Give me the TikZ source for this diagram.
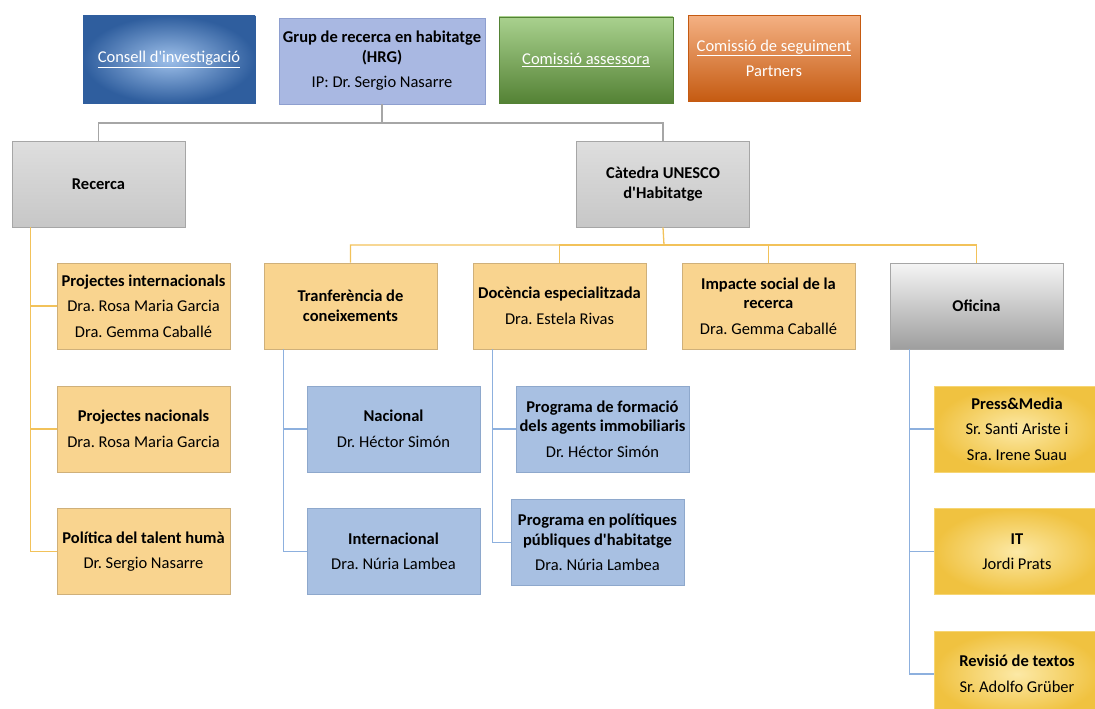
\documentclass[tikz,border=0pt]{standalone}
\usepackage{fontspec}
\setmainfont{Carlito}
\usetikzlibrary{positioning}
\definecolor{tanfill}{HTML}{F9D48F}
\definecolor{tanline}{HTML}{CFB07A}
\definecolor{skyfill}{HTML}{A8C0E2}
\definecolor{skyline}{HTML}{8EA8CC}
\definecolor{hrgfill}{HTML}{A9B8E2}
\definecolor{hrgline}{HTML}{8E9FCF}
\definecolor{greyline}{HTML}{A6A6A6}
\definecolor{consin}{HTML}{9EC0EA}
\definecolor{consout}{HTML}{2F5E9E}
\definecolor{asstop}{HTML}{A9D18E}
\definecolor{assbot}{HTML}{548235}
\definecolor{segtop}{HTML}{F4B183}
\definecolor{segbot}{HTML}{C55A11}
\definecolor{goldin}{HTML}{FCE9A6}
\definecolor{goldout}{HTML}{F0C240}
\definecolor{tanwire}{HTML}{F2C25A}
\definecolor{skywire}{HTML}{8DB0DE}
\tikzset{card/.style={minimum width=173pt,minimum height=86pt,inner sep=2pt,align=center,
    font=\fontsize{16.5}{19.5}\selectfont\frenchspacing,line width=0.8pt},
  tanbox/.style={card,fill=tanfill,draw=tanline},
  skybox/.style={card,fill=skyfill,draw=skyline},
  greybox/.style={card,top color=black!13,bottom color=black!22,draw=greyline},
  goldbox/.style={card,inner color=goldin,outer color=goldout,draw=goldin!50!goldout},
  tanlink/.style={draw=tanwire,line width=1.3pt},
  skylink/.style={draw=skywire,line width=1.3pt},
  greylink/.style={draw=greyline,line width=1.3pt}}
\newcommand\hd[1]{\textbf{#1}}
\newcommand\ap{\textquotesingle}
\begin{document}
\begin{tikzpicture}[x=1pt,y=-1pt]
    \useasboundingbox (0,0) rectangle (1095,709);
    \clip (0,0) rectangle (1095,709);
    \node[card,minimum width=172pt,minimum height=87pt,inner color=consin,outer color=consout,draw=consout,text=white]
        (consell) at (169,59.5) {\underline{Consell d\ap investigació}};
    \node[card,minimum width=206pt,fill=hrgfill,draw=hrgline] (grup) at (382,61)
        {\hd{Grup de recerca en habitatge}\\\hd{(HRG)}\\[6pt]IP: Dr. Sergio Nasarre};
    \node[card,minimum width=174pt,top color=asstop,bottom color=assbot,draw=assbot,text=white]
        (assessora) at (586,60) {\underline{Comissió assessora}};
    \node[card,minimum width=172pt,top color=segtop,bottom color=segbot,draw=segbot,text=white]
        (seguiment) at (774,58.5) {\underline{Comissió de seguiment}\\[6pt]Partners};
    \node[greybox] (recerca) at (98.5,184) {\hd{Recerca}};
    \node[greybox] (catedra) at (663,184) {\hd{Càtedra UNESCO}\\\hd{d\ap Habitatge}};
    \node[tanbox] (pint) at (143.5,306) {\hd{Projectes internacionals}\\[6pt]Dra. Rosa Maria Garcia\\[6pt]Dra. Gemma Caballé};
    \node[tanbox] (pnac) at (143.5,429) {\hd{Projectes nacionals}\\[6pt]Dra. Rosa Maria Garcia};
    \node[tanbox] (talent) at (143.5,551.5) {\hd{Política del talent humà}\\[6pt]Dr. Sergio Nasarre};
    \node[tanbox] (transf) at (350.5,306) {\hd{Tranferència de}\\\hd{coneixements}};
    \node[tanbox] (docencia) at (559.5,306) {\hd{Docència especialitzada}\\[6pt]Dra. Estela Rivas};
    \node[tanbox] (impacte) at (768.5,306) {\hd{Impacte social de la}\\\hd{recerca}\\[6pt]Dra. Gemma Caballé};
    \node[card,shading angle=30,top color=black!4,bottom color=black!38,draw=greyline] (oficina) at (976.5,306) {\hd{Oficina}};
    \node[skybox] (nacional) at (393.5,429) {\hd{Nacional}\\[6pt]Dr. Héctor Simón};
    \node[skybox] (internacional) at (393.5,551.5) {\hd{Internacional}\\[6pt]Dra. Núria Lambea};
    \node[skybox] (formacio) at (602.5,429) {\hd{Programa de formació}\\\hd{dels agents immobiliaris}\\[6pt]Dr. Héctor Simón};
    \node[skybox] (politiques) at (597.5,542.5) {\hd{Programa en polítiques}\\\hd{públiques d\ap habitatge}\\[6pt]Dra. Núria Lambea};
    \node[goldbox,minimum width=166pt] (press) at (1017,429) {\hd{Press\&Media}\\[6pt]Sr. Santi Ariste i\\[6pt]Sra. Irene Suau};
    \node[goldbox,minimum width=166pt] (it) at (1017,551.5) {\hd{IT}\\[6pt]Jordi Prats};
    \node[goldbox,minimum width=166pt] (revisio) at (1017,674) {\hd{Revisió de textos}\\[6pt]Sr. Adolfo Grüber};
    \coordinate (topbus) at (382,123);
    \coordinate (midbus) at (664,245);
    \draw[greylink] (grup.south) -- (topbus) -| (recerca.north);
    \draw[greylink] (topbus) -| (catedra.north);
    \draw[tanlink] (catedra.south) -- (midbus) -| (transf.north);
    \foreach \n in {docencia,impacte,oficina}
        \draw[tanlink] (midbus) -| (\n.north);
    \foreach \n in {pint,pnac,talent}
        \draw[tanlink] ([xshift=19pt]recerca.south west) |- (\n.west);
    \foreach \n in {nacional,internacional}
        \draw[skylink] ([xshift=20pt]transf.south west) |- (\n.west);
    \foreach \n in {formacio,politiques}
        \draw[skylink] ([xshift=20pt]docencia.south west) |- (\n.west);
    \foreach \n in {press,it,revisio}
        \draw[skylink] ([xshift=20pt]oficina.south west) |- (\n.west);
\end{tikzpicture}
\end{document}
